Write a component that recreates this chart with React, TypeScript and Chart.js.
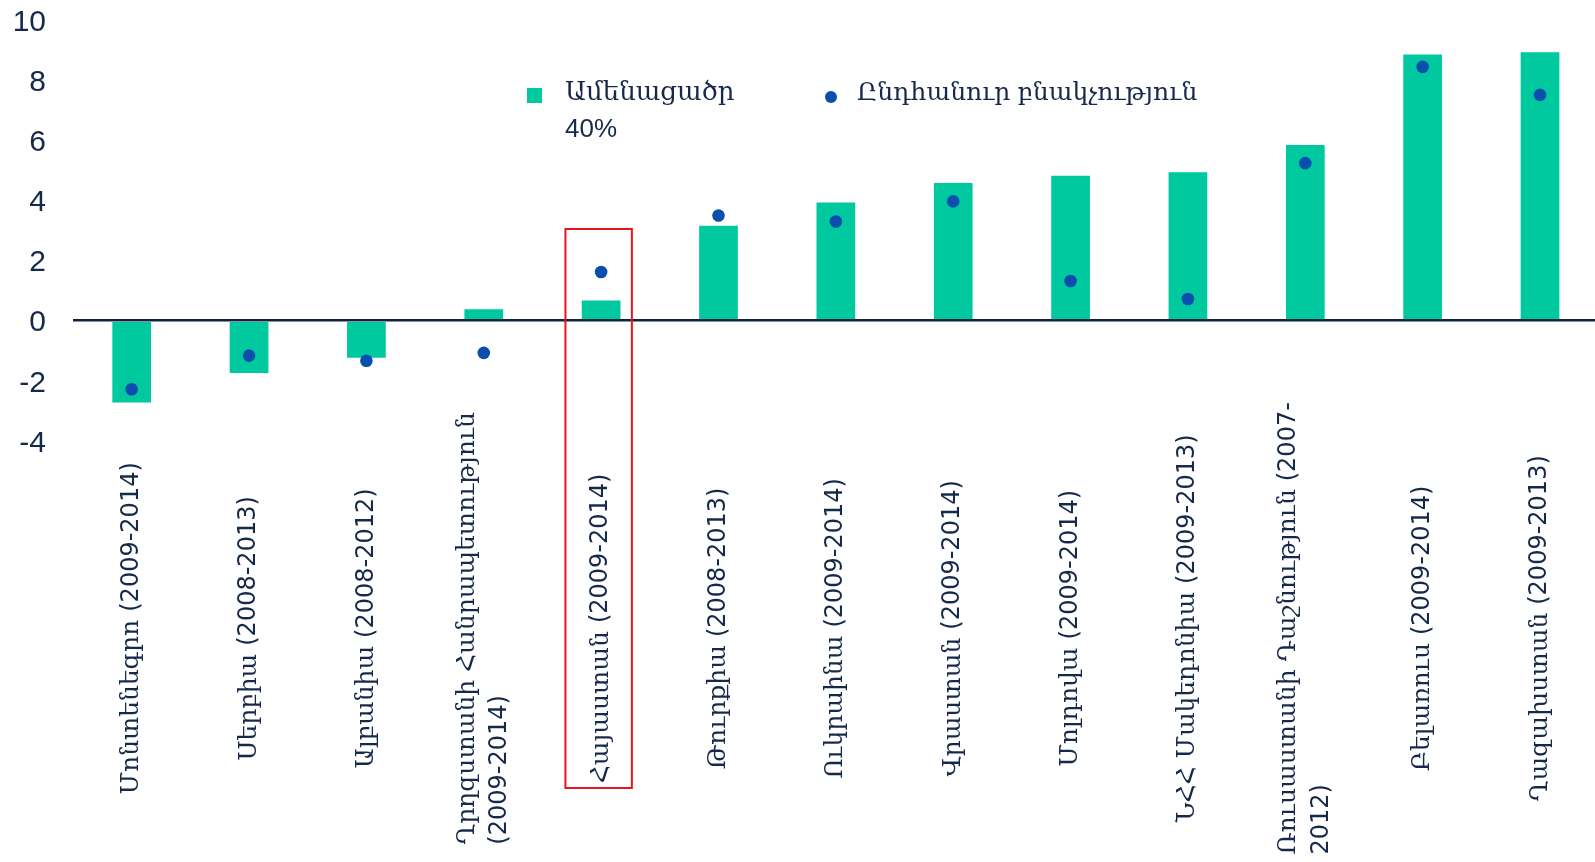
import React, { useEffect, useRef } from "react";
import { Chart, registerables } from "chart.js";

Chart.register(...registerables);

// ---- data ----
const categories: string[][] = [
  ["Մոնտենեգրո (2009-2014)"],
  ["Սերբիա (2008-2013)"],
  ["Ալբանիա (2008-2012)"],
  ["Ղրղզստանի Հանրապետություն", "(2009-2014)"],
  ["Հայաստան (2009-2014)"],
  ["Թուրքիա (2008-2013)"],
  ["Ուկրաինա (2009-2014)"],
  ["Վրաստան (2009-2014)"],
  ["Մոլդովա (2009-2014)"],
  ["ՆՀՀ Մակեդոնիա (2009-2013)"],
  ["Ռուսաստանի Դաշնություն (2007-", "2012)"],
  ["Բելառուս (2009-2014)"],
  ["Ղազախստան (2009-2013)"],
];
const bottom40: number[] = [-2.72, -1.74, -1.23, 0.38, 0.67, 3.16, 3.93, 4.58, 4.82, 4.94, 5.84, 8.85, 8.93];
const totalPopulation: number[] = [-2.28, -1.16, -1.33, -1.07, 1.62, 3.5, 3.3, 3.97, 1.32, 0.72, 5.24, 8.44, 7.51];
const yTickValues: number[] = [-4, -2, 0, 2, 4, 6, 8, 10];
const bottom40Label: string[] = ["Ամենացածր", "40%"];
const totalLabel: string[] = ["Ընդհանուր բնակչություն"];
const highlightIndex = 4;

// ---- style ----
const GREEN = "#00c9a0";
const BLUE = "#0b4fae";
const NAVY = "#16294a";
const RED = "#e8161c";
const FONT = "'Liberation Sans', 'DejaVu Serif', sans-serif";
const ARM_FONT = "25px 'DejaVu Serif', 'DejaVu Sans', sans-serif";
const NUM_FONT = "24px 'DejaVu Sans', sans-serif";
const CANVAS_W = 1605; // plot runs slightly past the visible page edge, as in the source
const PAGE_W = 1595;
const PAGE_H = 862;

function splitRuns(text: string): { t: string; arm: boolean }[] {
  const runs: { t: string; arm: boolean }[] = [];
  for (const ch of text) {
    const arm = /[\u0530-\u058F]/.test(ch) || (ch === " " && runs.length > 0 && runs[runs.length - 1].arm);
    if (runs.length && runs[runs.length - 1].arm === arm) runs[runs.length - 1].t += ch;
    else runs.push({ t: ch, arm });
  }
  return runs;
}

function measureLine(ctx: CanvasRenderingContext2D, text: string): number {
  let w = 0;
  for (const r of splitRuns(text)) {
    ctx.font = r.arm ? ARM_FONT : NUM_FONT;
    w += ctx.measureText(r.t).width;
  }
  return w;
}

const xLabelPlugin = {
  id: "xLabels",
  afterDraw(chart: any) {
    const ctx: CanvasRenderingContext2D = chart.ctx;
    const xs = chart.scales.x;
    ctx.save();
    ctx.fillStyle = NAVY;
    ctx.textBaseline = "middle";
    ctx.textAlign = "left";
    const lh = 33;
    const cy = xs.top + (xs.bottom - xs.top) * 0.445;
    categories.forEach((lines, i) => {
      const x = xs.getPixelForValue(i);
      const w = Math.max(...lines.map((l) => measureLine(ctx, l)));
      ctx.save();
      ctx.translate(x, cy);
      ctx.rotate(-Math.PI / 2);
      lines.forEach((l, j) => {
        const off = (j - (lines.length - 1) / 2) * lh;
        let px = -w / 2;
        for (const r of splitRuns(l)) {
          ctx.font = r.arm ? ARM_FONT : NUM_FONT;
          ctx.fillText(r.t, px, off);
          px += ctx.measureText(r.t).width;
        }
      });
      ctx.restore();
    });
    ctx.restore();
  },
};

const highlightPlugin = {
  id: "highlightBox",
  afterDraw(chart: any) {
    const { ctx } = chart;
    const xs = chart.scales.x;
    const ys = chart.scales.y;
    const step = xs.getPixelForValue(1) - xs.getPixelForValue(0);
    const cx = xs.getPixelForValue(highlightIndex) - step * 0.021;
    const half = step * 0.283;
    const top = ys.getPixelForValue(3.05);
    const bottom = xs.bottom - 74;
    ctx.save();
    ctx.strokeStyle = RED;
    ctx.lineWidth = 2;
    ctx.strokeRect(cx - half, top, half * 2, bottom - top);
    ctx.restore();
  },
};

export default function App() {
  const canvasRef = useRef<HTMLCanvasElement | null>(null);

  useEffect(() => {
    if (!canvasRef.current) return;
    const chart = new Chart(canvasRef.current, {
      type: "bar",
      data: {
        labels: categories.map((c) => c.join(" ")),
        datasets: [
          {
            type: "line",
            label: totalLabel.join(" "),
            data: totalPopulation,
            showLine: false,
            pointRadius: 6.3,
            pointHoverRadius: 6.3,
            pointBackgroundColor: BLUE,
            pointBorderWidth: 0,
            borderColor: BLUE,
            order: 0,
          } as any,
          {
            type: "bar",
            label: bottom40Label.join(" "),
            data: bottom40,
            backgroundColor: GREEN,
            borderWidth: 0,
            barPercentage: 0.33,
            categoryPercentage: 1,
            order: 1,
          },
        ],
      },
      options: {
        animation: false,
        responsive: false,
        maintainAspectRatio: false,
        layout: { padding: { top: 20, left: 10, right: 0, bottom: 0 } },
        plugins: {
          legend: { display: false },
          tooltip: { enabled: false },
        },
        scales: {
          x: {
            grid: { display: false, drawTicks: false },
            border: { display: false },
            ticks: { display: false },
            afterFit: (s: any) => {
              s.height = 421;
              s.paddingLeft = 0;
              s.paddingRight = 0;
            },
          },
          y: {
            min: -4,
            max: 10,
            afterBuildTicks: (s: any) => {
              s.ticks = yTickValues.map((v) => ({ value: v }));
            },
            ticks: {
              padding: 27,
              labelOffset: 2.5,
              color: NAVY,
              font: { size: 30, family: FONT },
            },
            grid: {
              drawTicks: false,
              z: 1,
              color: (c: any) => (c.tick && c.tick.value === 0 ? "#0f2340" : "rgba(0,0,0,0)"),
              lineWidth: (c: any) => (c.tick && c.tick.value === 0 ? 2.5 : 0),
            },
            border: { display: false },
            afterFit: (s: any) => {
              s.width = 63;
              s.paddingTop = 0;
              s.paddingBottom = 0;
            },
          },
        },
      },
      plugins: [xLabelPlugin, highlightPlugin],
    });
    return () => chart.destroy();
  }, []);

  const legendText: React.CSSProperties = {
    position: "absolute",
    fontFamily: FONT,
    fontSize: 26,
    lineHeight: "37px",
    color: NAVY,
    whiteSpace: "nowrap",
  };

  return (
    <div
      style={{
        position: "absolute",
        left: 0,
        top: 0,
        width: PAGE_W,
        height: PAGE_H,
        background: "#fff",
        overflow: "hidden",
      }}
    >
      <canvas ref={canvasRef} width={CANVAS_W} height={PAGE_H} style={{ display: "block" }} />
      <div style={{ position: "absolute", left: 527, top: 88, width: 15, height: 15, background: GREEN }} />
      <div style={{ ...legendText, left: 565, top: 73 }}>
        {bottom40Label.map((t, i) => (
          <div key={i}>{t}</div>
        ))}
      </div>
      <div
        style={{
          position: "absolute",
          left: 825,
          top: 91,
          width: 12,
          height: 12,
          borderRadius: "50%",
          background: BLUE,
        }}
      />
      <div style={{ ...legendText, left: 857, top: 73, fontSize: 25 }}>{totalLabel[0]}</div>
    </div>
  );
}
